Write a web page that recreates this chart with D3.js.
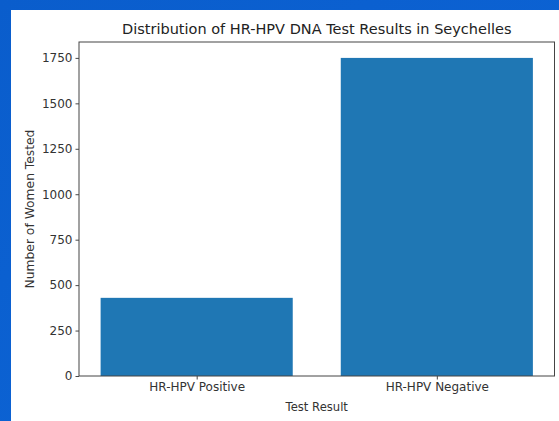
<!DOCTYPE html>
<html>
<head>
<meta charset="utf-8">
<script src="https://cdn.jsdelivr.net/npm/d3@7"></script>
<style>
  html, body { margin: 0; padding: 0; background: #0b5fcf; }
  svg { display: block; }
  text { font-family: "DejaVu Sans", sans-serif; fill: #262626; }
</style>
</head>
<body>
<svg id="chart" width="559" height="421"></svg>
<script>
const categories = ["HR-HPV Positive", "HR-HPV Negative"];
const counts = [430, 1750];
const yTicks = [0, 250, 500, 750, 1000, 1250, 1500, 1750];
const titleText = "Distribution of HR-HPV DNA Test Results in Seychelles";
const xLabelText = "Test Result";
const yLabelText = "Number of Women Tested";

const W = 559, H = 421;
const svg = d3.select("#chart");

// blue slide background with subtle gradient
const defs = svg.append("defs");
const grad = defs.append("linearGradient").attr("id", "bg").attr("x1", 0).attr("y1", 0).attr("x2", 1).attr("y2", 1);
grad.append("stop").attr("offset", 0).attr("stop-color", "#0a5dcc");
grad.append("stop").attr("offset", 1).attr("stop-color", "#0d66d8");
svg.append("rect").attr("width", W).attr("height", H).attr("fill", "url(#bg)");

// white figure panel
svg.append("rect").attr("x", 11).attr("y", 10).attr("width", W - 11).attr("height", H - 10).attr("fill", "#ffffff");

const m = { left: 79, right: 554.5, top: 42, bottom: 376 };

// matplotlib-like category axis: positions 0..n-1, bar width 0.8, 5% margins
const n = categories.length;
const lo = -0.4, hi = (n - 1) + 0.4, pad = (hi - lo) * 0.05;
const x = d3.scaleLinear().domain([lo - pad, hi + pad]).range([m.left, m.right]);
const yMax = d3.max(counts) * 1.05;
const y = d3.scaleLinear().domain([0, yMax]).range([m.bottom, m.top]);

// bars
svg.append("g").selectAll("rect").data(counts).join("rect")
  .attr("x", (d, i) => x(i - 0.4))
  .attr("width", (d, i) => x(i + 0.4) - x(i - 0.4))
  .attr("y", d => y(d))
  .attr("height", d => y(0) - y(d))
  .attr("fill", "#1f77b4");

// axes
const tickFont = 12;
const xAxis = d3.axisBottom(x).tickValues(d3.range(n)).tickFormat(i => categories[i]).tickSize(3.5).tickPadding(3);
const gx = svg.append("g").attr("transform", `translate(0,${m.bottom})`).call(xAxis);
const yAxis = d3.axisLeft(y).tickValues(yTicks).tickSize(3.5).tickPadding(3).tickFormat(d3.format("d"));
const gy = svg.append("g").attr("transform", `translate(${m.left},0)`).call(yAxis);
[gx, gy].forEach(g => {
  g.select(".domain").remove();
  g.selectAll(".tick line").attr("stroke", "#333").attr("stroke-width", 0.9);
  g.selectAll("text").style("font-size", tickFont + "px").style("fill", "#333");
});

// spines
svg.append("rect").attr("x", m.left).attr("y", m.top)
  .attr("width", m.right - m.left).attr("height", m.bottom - m.top)
  .attr("fill", "none").attr("stroke", "#444").attr("stroke-width", 1);

// title
svg.append("text").attr("x", (m.left + m.right) / 2).attr("y", 34)
  .attr("text-anchor", "middle").style("font-size", "14.5px").style("fill", "#222").text(titleText);

// axis labels
svg.append("text").attr("x", (m.left + m.right) / 2).attr("y", 411)
  .attr("text-anchor", "middle").style("font-size", "11.6px").style("fill", "#333").text(xLabelText);
svg.append("text").attr("transform", `translate(34,${(m.top + m.bottom) / 2}) rotate(-90)`)
  .attr("text-anchor", "middle").style("font-size", "12.3px").style("fill", "#333").text(yLabelText);
</script>
</body>
</html>
